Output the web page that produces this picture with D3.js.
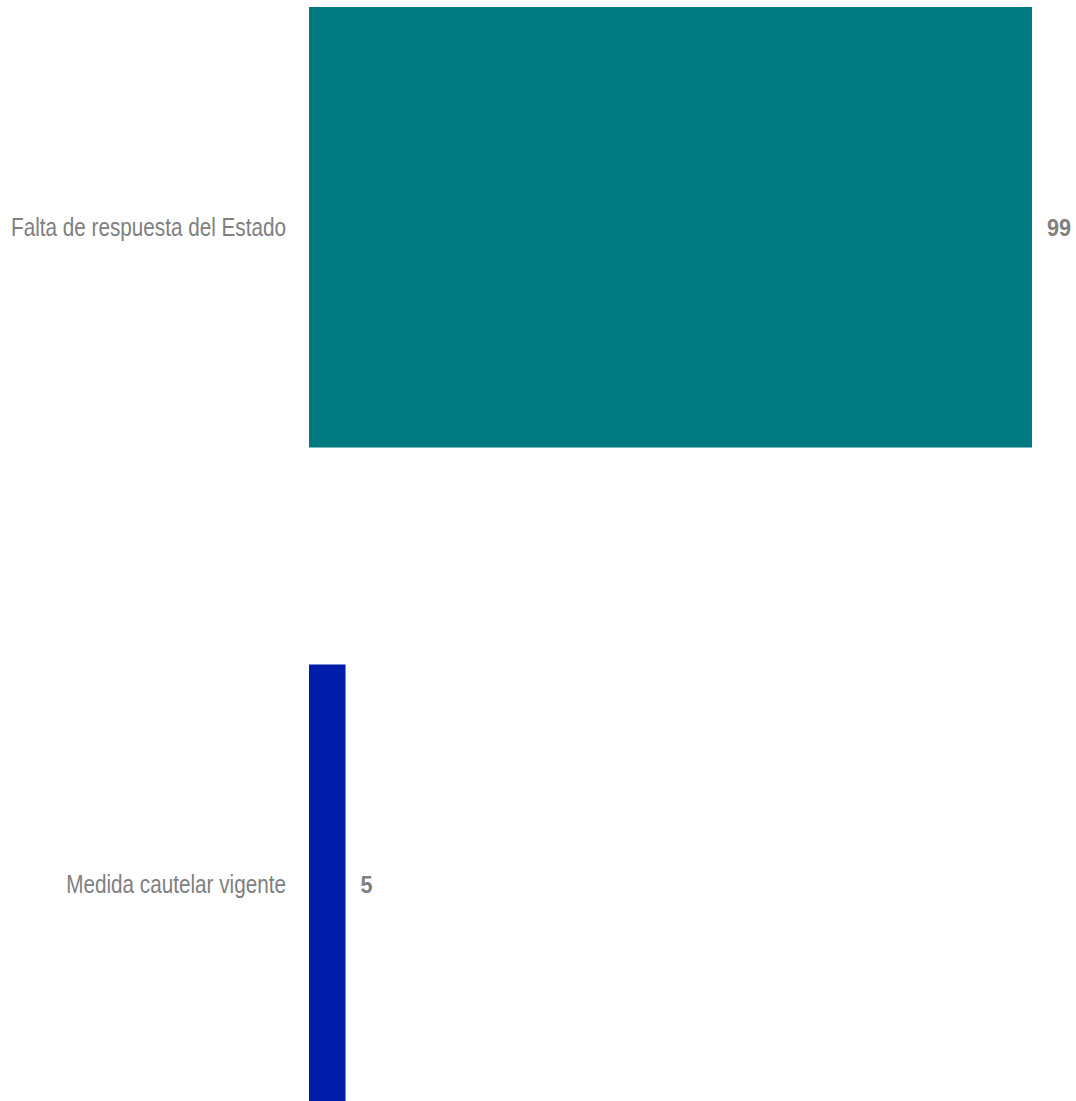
<!DOCTYPE html>
<html><head><meta charset="utf-8">
<script src="https://cdn.jsdelivr.net/npm/d3@7"></script>
<style>body{margin:0;background:#fff;overflow:hidden}</style>
</head><body>
<svg id="c" width="1076" height="1101"></svg>
<script>
const categories = ["Falta de respuesta del Estado", "Medida cautelar vigente"];
const values = [99, 5];
const colors = ["#007A80", "#001EAA"];

const svg = d3.select("#c");
const x = d3.scaleLinear().domain([0, 99]).range([309, 1032]);
const y = d3.scaleBand().domain(categories).range([7, 1105]).paddingInner(0.33).paddingOuter(0);
const font = "'Liberation Sans','Arial',sans-serif";

svg.selectAll("rect.bar").data(categories).join("rect")
  .attr("class","bar")
  .attr("x", x(0)).attr("y", d => y(d))
  .attr("width", (d,i) => x(values[i]) - x(0))
  .attr("height", y.bandwidth())
  .attr("fill", (d,i) => colors[i]);

const cats = svg.selectAll("text.cat").data(categories).join("text")
  .attr("class","cat")
  .attr("x", 286).attr("y", d => y(d) + y.bandwidth()/2)
  .attr("dy","0.35em").attr("text-anchor","end")
  .attr("font-family", font).attr("font-size", 25).attr("fill","#808080")
  .text(d => d);
// condensed look: compress horizontally by a common factor
const w0 = cats.nodes()[0].getComputedTextLength();
const k = 275 / w0;
cats.each(function(){
  const w = this.getComputedTextLength();
  d3.select(this).attr("textLength", w * k).attr("lengthAdjust","spacingAndGlyphs");
});

const vals = svg.selectAll("text.val").data(categories).join("text")
  .attr("class","val")
  .attr("x", (d,i) => x(values[i]) + 15).attr("y", d => y(d) + y.bandwidth()/2)
  .attr("dy","0.35em").attr("text-anchor","start")
  .attr("font-family", font).attr("font-size", 24).attr("font-weight","bold").attr("fill","#808080")
  .text((d,i) => values[i]);
vals.each(function(){
  const w = this.getComputedTextLength();
  d3.select(this).attr("textLength", w * 0.9).attr("lengthAdjust","spacingAndGlyphs");
});
</script>
</body></html>
